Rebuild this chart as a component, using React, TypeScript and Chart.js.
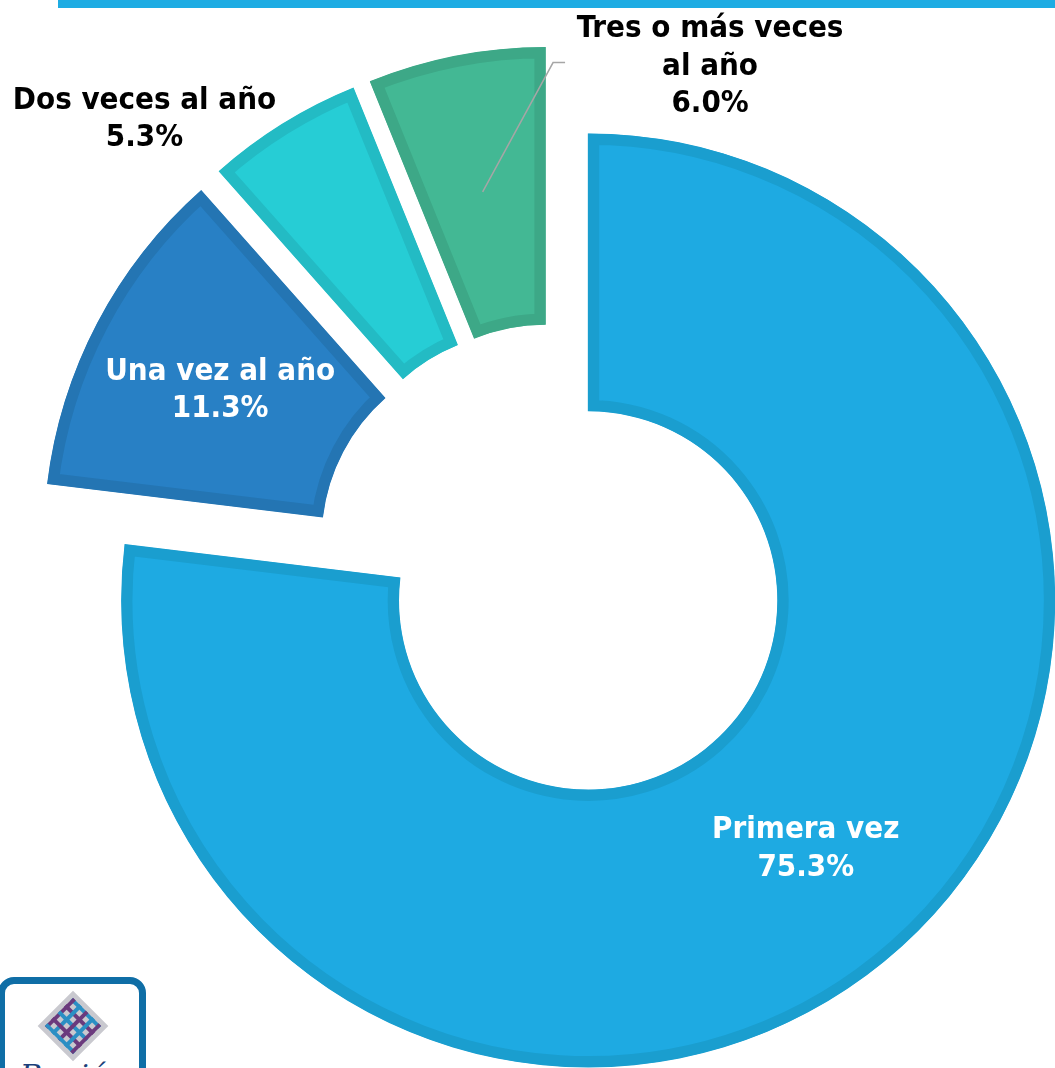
import React, { useEffect, useRef } from 'react';
import { Chart, registerables } from 'chart.js';

Chart.register(...registerables);

// ---- data ----
const categories = ['Primera vez', 'Una vez al año', 'Dos veces al año', 'Tres o más veces al año'];
const values = [75.3, 11.3, 5.3, 6.0];
const labelLines = [['Primera vez'], ['Una vez al año'], ['Dos veces al año'], ['Tres o más veces', 'al año']];

// ---- styles ----
const fillColors = ['#1eaae2', '#2880c5', '#26cdd5', '#43b894'];
const borderColors = ['#1a9ecf', '#2475b3', '#23bbc4', '#3da887'];
const explode = [50, 50, 50, 50];
const labelLayout = [
  { mode: 'inside', color: '#ffffff', dx: 0, dy: 0, leader: false },
  { mode: 'inside', color: '#ffffff', dx: 0, dy: 0, leader: false },
  { mode: 'outside', color: '#000000', dx: -138, dy: -7, leader: false },
  { mode: 'outside', color: '#000000', dx: 254, dy: 8, leader: true },
];
const FONT = "bold 31px 'DejaVu Sans Condensed', 'DejaVu Sans', sans-serif";
const LINE_H = 37.5;

const explodePlugin = {
  id: 'explodeSlices',
  afterDatasetUpdate(chart: any, args: any) {
    const meta = args.meta;
    meta.data.forEach((arc: any, i: number) => {
      const mid = (arc.startAngle + arc.endAngle) / 2;
      const e = explode[i] || 0;
      arc.x += Math.cos(mid) * e;
      arc.y += Math.sin(mid) * e;
    });
  },
};

const labelPlugin = {
  id: 'sliceLabels',
  afterDatasetsDraw(chart: any) {
    const ctx = chart.ctx;
    const meta = chart.getDatasetMeta(0);
    ctx.save();
    ctx.font = FONT;
    ctx.textAlign = 'center';
    ctx.textBaseline = 'alphabetic';
    meta.data.forEach((arc: any, i: number) => {
      const lay = labelLayout[i];
      const mid = (arc.startAngle + arc.endAngle) / 2;
      const cosA = Math.cos(mid);
      const sinA = Math.sin(mid);
      const rMid = (arc.innerRadius + arc.outerRadius) / 2;
      const cx0 = arc.x + cosA * rMid;
      const cy0 = arc.y + sinA * rMid;
      let cx = cx0;
      let cy = cy0;
      if (lay.mode === 'outside') {
        const ox = arc.x + cosA * arc.outerRadius;
        const oy = arc.y + sinA * arc.outerRadius;
        cx = ox + lay.dx;
        cy = oy + lay.dy;
        if (lay.leader) {
          ctx.beginPath();
          ctx.strokeStyle = '#a6a6a6';
          ctx.lineWidth = 1.5;
          ctx.moveTo(cx0, cy0);
          ctx.lineTo(ox + 97, oy + 7);
          ctx.lineTo(ox + 109, oy + 7);
          ctx.stroke();
        }
      }
      const lines = [...labelLines[i], values[i].toFixed(1) + '%'];
      const n = lines.length;
      ctx.fillStyle = lay.color;
      lines.forEach((t, k) => {
        const y = cy - ((n - 1) / 2) * LINE_H + k * LINE_H + 11;
        ctx.fillText(t, cx, y);
      });
    });
    ctx.restore();
  },
};

function Logo() {
  const stripes: any[] = [];
  for (let k = -3; k <= 3; k++) {
    const c = k % 2 === 0 ? '#2b8fc4' : '#6b3a7d';
    stripes.push(<line key={'a' + k} x1={-40} y1={k * 9} x2={40} y2={k * 9} stroke={c} strokeWidth={4} />);
    stripes.push(<line key={'b' + k} x1={k * 9} y1={-40} x2={k * 9} y2={40} stroke={k % 2 === 0 ? '#6b3a7d' : '#2b8fc4'} strokeWidth={4} />);
  }
  return (
    <div
      style={{
        position: 'absolute',
        left: -2,
        top: 977,
        width: 134,
        height: 120,
        border: '7px solid #0f6ea6',
        borderRadius: 16,
        background: '#fff',
        overflow: 'hidden',
      }}
    >
      <svg width={134} height={110} style={{ position: 'absolute', left: 0, top: 0 }}>
        <g transform="translate(68,42) rotate(45)">
          <rect x={-25} y={-25} width={50} height={50} fill="#c9c9cf" />
          <clipPath id="cp">
            <rect x={-20} y={-20} width={40} height={40} />
          </clipPath>
          <g clipPath="url(#cp)">{stripes}</g>
        </g>
        <text x={68} y={102} textAnchor="middle" fontFamily="'DejaVu Serif', serif" fontStyle="italic" fontSize={30} fill="#1b3f7a">
          Región
        </text>
      </svg>
    </div>
  );
}

export default function App() {
  const ref = useRef<HTMLCanvasElement | null>(null);
  useEffect(() => {
    if (!ref.current) return;
    const chart = new Chart(ref.current, {
      type: 'doughnut',
      data: {
        labels: categories,
        datasets: [
          {
            data: values,
            backgroundColor: fillColors,
            borderColor: borderColors,
            borderWidth: 11,
            borderAlign: 'inner',
            borderJoinStyle: 'miter',
          } as any,
        ],
      },
      options: {
        responsive: true,
        maintainAspectRatio: false,
        animation: false,
        radius: 467,
        cutout: '40.5%',
        layout: { padding: { left: 55, top: 58, right: 0, bottom: 0 } },
        plugins: { legend: { display: false }, tooltip: { enabled: false } },
      } as any,
      plugins: [explodePlugin, labelPlugin],
    });
    return () => chart.destroy();
  }, []);
  return (
    <div style={{ position: 'fixed', left: 0, top: 0, width: 1055, height: 1068, overflow: 'hidden', background: '#fff' }}>
      <div style={{ position: 'absolute', left: 58, top: 0, width: 997, height: 8, background: '#1eace3' }} />
      <div style={{ position: 'absolute', left: 0, top: 0, width: 1055, height: 1068 }}>
        <canvas ref={ref} />
      </div>
      <Logo />
    </div>
  );
}
